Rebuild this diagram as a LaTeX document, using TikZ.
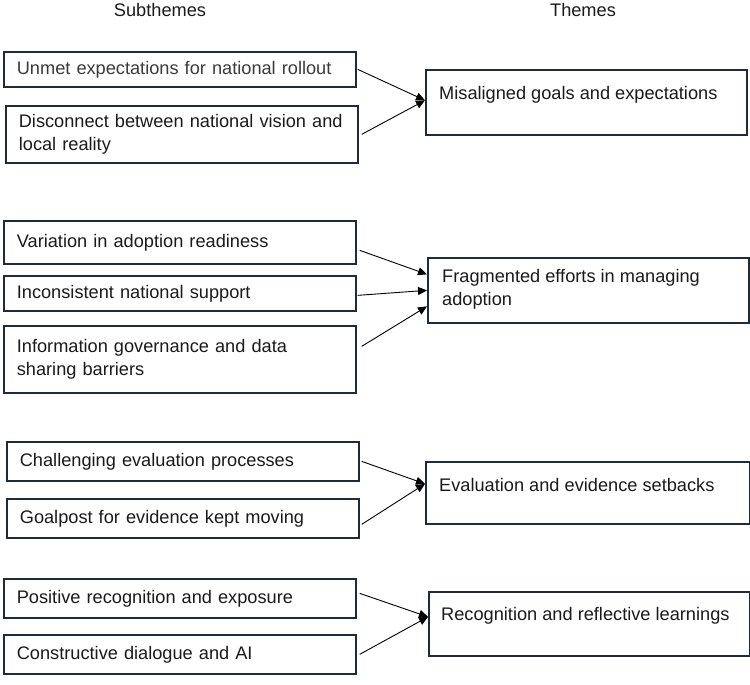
\documentclass[tikz,border=0pt]{standalone}
\usepackage{fontspec}
\setmainfont{Liberation Sans}
\usetikzlibrary{arrows.meta}
\usetikzlibrary{positioning}
\definecolor{thline}{HTML}{1E2B3A}
\definecolor{think}{HTML}{1A1A1A}
\definecolor{thmuted}{HTML}{3A3A3A}
\tikzset{
  thfont/.style={font={\fontsize{18.2pt}{23.5pt}\selectfont}},
  subbox/.style={
    thfont, draw=thline, line width=1.7pt, anchor=north west,
    minimum width=352pt, inner xsep=13pt, text width=326pt,
    align=left, text=think},
  themebox/.style={
    draw=thline, line width=1.7pt, anchor=north west,
    minimum width=321pt, minimum height=65pt},
  themetext/.style={thfont, anchor=west, align=left, inner sep=0pt,
    text=think},
  thhead/.style={thfont, text=think},
  thlink/.style={-{Triangle[length=9pt, width=8pt]}, draw=black,
    line width=0.9pt},
}
\begin{document}
\begin{tikzpicture}[x=1pt, y=-1pt]
\useasboundingbox (0, 0) rectangle (750, 685);

% Column headers.
\node[thhead] (hsub) at (160, 10) {Subthemes};
\node[thhead] (hthm) at (583, 10) {Themes};

% Subthemes.
\node[subbox, minimum height=35pt, text=thmuted] (s1) at (3, 51)
  {Unmet expectations for national rollout};
\node[subbox, minimum height=57pt] (s2) at (5, 105)
  {Disconnect between national vision and\\local reality};
\node[subbox, minimum height=43pt] (s3) at (3, 220)
  {Variation in adoption readiness};
\node[subbox, minimum height=35pt] (s4) at (3, 275)
  {Inconsistent national support};
\node[subbox, minimum height=67pt] (s5) at (3, 325)
  {Information governance and data\\sharing barriers};
\node[subbox, minimum width=350pt, minimum height=39pt] (s6) at (6, 441)
  {Challenging evaluation processes};
\node[subbox, minimum width=350pt, minimum height=39pt] (s7) at (6, 498)
  {Goalpost for evidence kept moving};
\node[subbox, minimum height=39pt] (s8) at (3, 578)
  {Positive recognition and exposure};
\node[subbox, minimum height=39pt] (s9) at (3, 634)
  {Constructive dialogue and AI};

% Themes: boxes, then their labels near the top.
\node[themebox] (t1) at (425, 69) {};
\node[themebox] (t2) at (427, 257) {};
\node[themebox, minimum width=324pt, minimum height=62pt] (t3)
  at (425, 461) {};
\node[themebox, minimum height=64pt] (t4) at (428, 591) {};
\node[themetext] (t1x) at ([xshift=14pt, yshift=-26pt]t1.north west)
  {Misaligned goals and expectations};
\node[themetext] (t2x) at ([xshift=15pt, yshift=1pt]t2.west)
  {Fragmented efforts in managing\\adoption};
\node[themetext] (t3x) at ([xshift=14pt, yshift=-24pt]t3.north west)
  {Evaluation and evidence setbacks};
\node[themetext] (t4x) at ([xshift=13pt, yshift=-25pt]t4.north west)
  {Recognition and reflective learnings};

% Subtheme-to-theme links.
\draw[thlink] ([xshift=1pt]s1.east) -- ([yshift=2pt]t1.west);
\draw[thlink] ([xshift=3pt]s2.east) -- ([yshift=2pt]t1.west);
\draw[thlink] ([xshift=3pt, yshift=-8pt]s3.east) -- ([yshift=16pt]t2.west);
\draw[thlink] ([xshift=1pt, yshift=-2pt]s4.east) -- (t2.west);
\draw[thlink] ([xshift=5pt, yshift=13pt]s5.east) -- ([yshift=-16pt]t2.west);
\draw[thlink] ([xshift=2pt]s6.east) -- ([yshift=9pt]t3.west);
\draw[thlink] ([xshift=2pt, yshift=-6pt]s7.east) -- ([yshift=9pt]t3.west);
\draw[thlink] ([xshift=3pt, yshift=5pt]s8.east) -- ([yshift=7pt]t4.west);
\draw[thlink] ([xshift=3pt]s9.east) -- ([yshift=7pt]t4.west);

\end{tikzpicture}
\end{document}
